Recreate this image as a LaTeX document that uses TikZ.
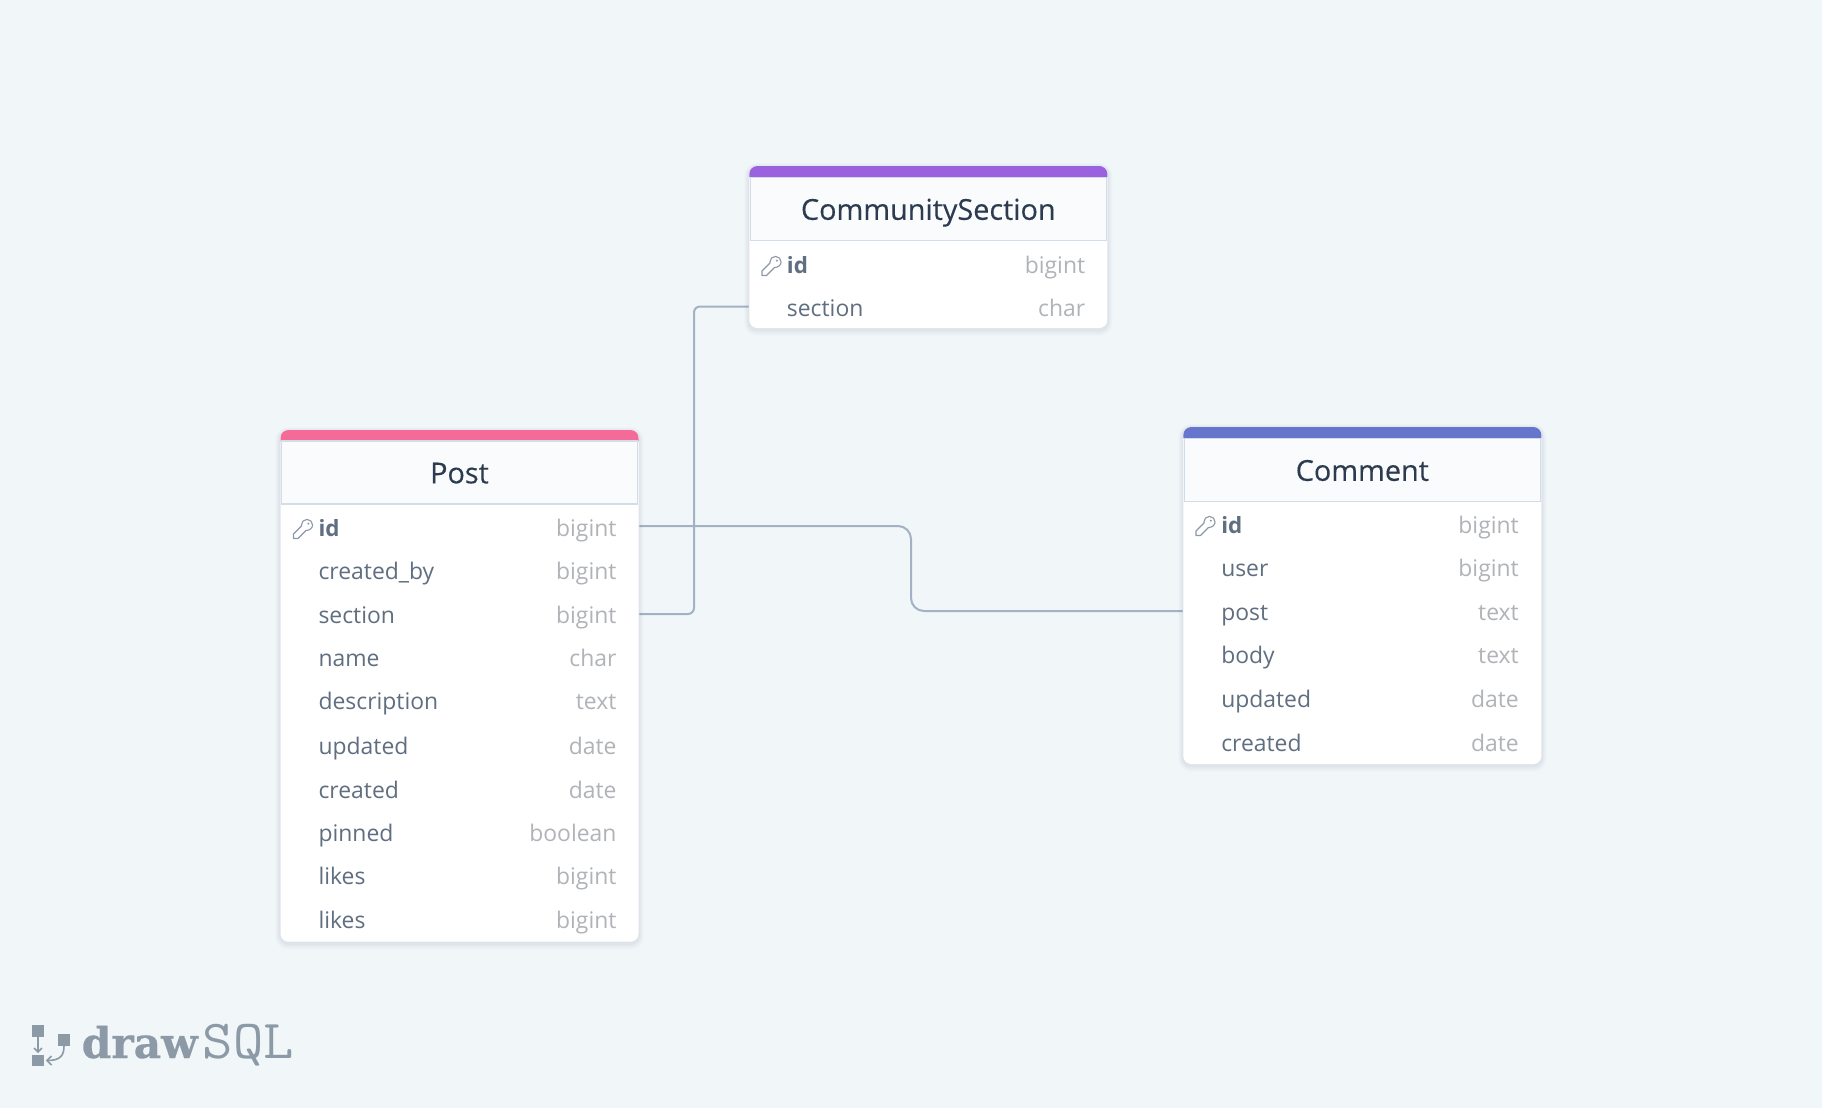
\documentclass[tikz,border=0pt]{standalone}
\usepackage{fontspec}
\setmainfont{Open Sans}
\newfontfamily\titlefont[FakeBold=0.25]{Open Sans}
\newfontfamily\logoslab[BoldFeatures={FakeBold=0.6}]{DejaVu Serif}
\usetikzlibrary{backgrounds}

\definecolor{pagebg}{HTML}{F1F6F9}
\definecolor{headbg}{HTML}{F9FBFD}
\definecolor{headline}{HTML}{D3DDE8}
\definecolor{titletext}{HTML}{2D3B50}
\definecolor{nametext}{HTML}{5F6E80}
\definecolor{typetext}{HTML}{B0B3B7}
\definecolor{relline}{HTML}{A3B1C5}
\definecolor{keyline}{HTML}{8C98A8}
\definecolor{logotext}{HTML}{8C99A6}
\definecolor{shadowtone}{HTML}{5A6B85}
\definecolor{postbar}{HTML}{F56B98}
\definecolor{sectionbar}{HTML}{9B62E0}
\definecolor{commentbar}{HTML}{6676CD}

\tikzset{
  every picture/.style={line width=0.75pt},
  tablebox/.style={fill=white,rounded corners=4pt,inner sep=0pt,
    preaction={draw=shadowtone,draw opacity=.03,line width=5pt,transform canvas={yshift=-1.2pt}},
    preaction={draw=shadowtone,draw opacity=.04,line width=3.4pt,transform canvas={yshift=-1pt}},
    preaction={draw=shadowtone,draw opacity=.05,line width=1.8pt,transform canvas={yshift=-.8pt}}},
  tablehead/.style={fill=headbg,draw=headline,line width=.6pt,inner sep=0pt,minimum width=178pt,
    minimum height=31.5pt,text=titletext,font=\titlefont\fontsize{14.4}{16}\selectfont,text height=12pt,text depth=1.2pt},
  rowname/.style={anchor=base west,inner sep=0pt,text=nametext,font=\fontsize{11.45}{13}\selectfont},
  rowid/.style={rowname,font=\fontsize{11.2}{13}\selectfont\bfseries},
  rowtype/.style={anchor=base east,inner sep=0pt,text=typetext,font=\fontsize{11.45}{13}\selectfont},
  relation/.style={draw=relline,line width=1pt},
  keyicon/.pic={
    \draw [keyline,line width=.55pt,line join=round] (3,1.5) .. controls (6.5,1.6) and (9.6,-1) .. (9.6,-4) .. controls (9.6,-7.1) and (7.1,-9.6) .. (4,-9.6) .. controls (0.9,-9.6) and (-1.6,-7.1) .. (-1.6,-4) .. controls (-1.6,-3.6) and (-1.6,-3.3) .. (-1.5,-3) -- (-9.5,5) -- (-9.5,9.5) -- (-5,9.5) -- cycle ;
    \fill [keyline] (5.4,-5.4) circle [radius=1.1] ;
  },
}

\begin{document}
\begin{tikzpicture}[x=0.5pt,y=0.5pt,yscale=-1,xscale=1]
\useasboundingbox (0,0) rectangle (1822,1108);

%Shape: Table body
\draw (459.5,685.85) node (posttable) [tablebox,minimum width=179pt,minimum height=255.85pt] {};
\draw (928.3,247) node (sectiontable) [tablebox,minimum width=179pt,minimum height=81pt] {};
\draw (1362.3,595.5) node (commenttable) [tablebox,minimum width=179pt,minimum height=168.5pt] {};

%Shape: Colour bar
\fill [postbar] (280.5,441) [rounded corners=4pt] -- (280.5,430) -- (638.5,430) [sharp corners] -- (638.5,441) -- cycle ;
\fill [sectionbar] (749.3,177) [rounded corners=4pt] -- (749.3,166) -- (1107.3,166) [sharp corners] -- (1107.3,177) -- cycle ;
\fill [commentbar] (1183.3,438) [rounded corners=4pt] -- (1183.3,427) -- (1541.3,427) [sharp corners] -- (1541.3,438) -- cycle ;

% Text Node
\draw (459.5,472.5) node (posthead) [tablehead] {Post};
\draw (928.3,209) node (sectionhead) [tablehead] {CommunitySection};
\draw (1362.3,470) node (commenthead) [tablehead] {Comment};

% Text Node
\draw (317.8,536) node (postid) [rowid] {id};
\draw (617.2,536) node (postidtype) [rowtype] {bigint};
\draw (317.8,579.3) node (postcreatedby) [rowname] {created\_by};
\draw (617.2,579.3) node (postcreatedbytype) [rowtype] {bigint};
\draw (317.8,623) node (postsection) [rowname] {section};
\draw (617.2,623) node (postsectiontype) [rowtype] {bigint};
\draw (317.8,666) node (postname) [rowname] {name};
\draw (617.2,666) node (postnametype) [rowtype] {char};
\draw (317.8,709) node (postdescription) [rowname] {description};
\draw (617.2,709) node (postdescriptiontype) [rowtype] {text};
\draw (317.8,754) node (postupdated) [rowname] {updated};
\draw (617.2,754) node (postupdatedtype) [rowtype] {date};
\draw (317.8,798.7) node (postcreated) [rowname] {created};
\draw (617.2,798.7) node (postcreatedtype) [rowtype] {date};
\draw (317.8,841) node (postpinned) [rowname] {pinned};
\draw (617.2,841) node (postpinnedtype) [rowtype] {boolean};
\draw (317.8,884.3) node (postlikes) [rowname] {likes};
\draw (617.2,884.3) node (postlikestype) [rowtype] {bigint};
\draw (317.8,928) node (postlikesb) [rowname] {likes};
\draw (617.2,928) node (postlikesbtype) [rowtype] {bigint};

% Text Node
\draw (786.2,273) node (sectionid) [rowid] {id};
\draw (1085.9,273) node (sectionidtype) [rowtype] {bigint};
\draw (786.2,316) node (sectionsection) [rowname] {section};
\draw (1085.9,316) node (sectionsectiontype) [rowtype] {char};

% Text Node
\draw (1220.5,533) node (commentid) [rowid] {id};
\draw (1519.5,533) node (commentidtype) [rowtype] {bigint};
\draw (1220.5,576.3) node (commentuser) [rowname] {user};
\draw (1519.5,576.3) node (commentusertype) [rowtype] {bigint};
\draw (1220.5,620) node (commentpost) [rowname] {post};
\draw (1519.5,620) node (commentposttype) [rowtype] {text};
\draw (1220.5,663.3) node (commentbody) [rowname] {body};
\draw (1519.5,663.3) node (commentbodytype) [rowtype] {text};
\draw (1220.5,707.3) node (commentupdated) [rowname] {updated};
\draw (1519.5,707.3) node (commentupdatedtype) [rowtype] {date};
\draw (1220.5,751.7) node (commentcreated) [rowname] {created};
\draw (1519.5,751.7) node (commentcreatedtype) [rowtype] {date};

%Shape: Key
\pic [transform shape] at (303,529) {keyicon};
\pic [transform shape] at (771.5,266) {keyicon};
\pic [transform shape] at (1205.5,526) {keyicon};

%Straight Lines
\coordinate (postidport) at (posttable.east |- 0,526);
\coordinate (postsectionport) at (posttable.east |- 0,614);
\coordinate (sectionport) at (sectiontable.west |- 0,306.5);
\coordinate (commentport) at (commenttable.west |- 0,611);
\coordinate (sectionbend) at (694,450);
\coordinate (postbend) at (911,570);

\begin{scope}[on background layer]
\fill [pagebg] (0,0) rectangle (1822,1108);
\draw [relation,rounded corners=3pt] (postsectionport) -| (sectionbend) |- (sectionport);
\draw [relation,rounded corners=6.5pt] (postidport) -| (postbend) |- (commentport);
\end{scope}

%Shape: Logo
\fill [logotext] (32,1025) rectangle (44,1037);
\fill [logotext] (32,1055) rectangle (44,1066);
\fill [logotext] (58,1034) rectangle (70,1046);
\coordinate (logotop) at (38,1037);
\coordinate (logodown) at (38,1052);
\coordinate (logoright) at (64,1046);
\coordinate (logoleft) at (47,1060.5);
\draw [logotext,line width=.8pt] (logotop) -- (logodown);
\draw [logotext,line width=.8pt] (34,1048) -- (logodown) -- (42,1048);
\draw [logotext,line width=.8pt] (logoright) .. controls (64,1056) and (60,1060.5) .. (logoleft);
\draw [logotext,line width=.8pt] (51.5,1056) -- (logoleft) -- (51.5,1065);

% Text Node
\draw (81,1058) node (logodraw) [anchor=base west,inner sep=0pt,text=logotext,font=\logoslab\bfseries\fontsize{21.2}{24}\selectfont] {draw};
\draw (202,1058) node (logosql) [anchor=base west,inner sep=0pt,text=logotext,xscale=1.07,font=\ttfamily\fontsize{27.5}{30}\selectfont] {SQL};

\end{tikzpicture}
\end{document}
